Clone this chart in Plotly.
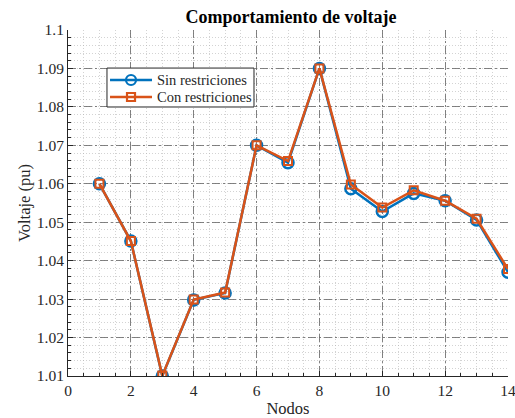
import plotly.graph_objects as go

nodos = list(range(1, 15))
sin_restricciones = [1.0600, 1.0451, 1.0100, 1.0298, 1.0316, 1.0700, 1.0655, 1.0900,
                     1.0587, 1.0528, 1.0575, 1.0556, 1.0506, 1.0370]
con_restricciones = [1.0600, 1.0451, 1.0101, 1.0299, 1.0317, 1.0700, 1.0659, 1.0900,
                     1.0598, 1.0538, 1.0583, 1.0556, 1.0509, 1.0378]
series_names = ["Sin restriciones", "Con restriciones"]

x_ticks = [0, 2, 4, 6, 8, 10, 12, 14]
y_ticks = [1.01, 1.02, 1.03, 1.04, 1.05, 1.06, 1.07, 1.08, 1.09, 1.1]
y_labels = ["1.01", "1.02", "1.03", "1.04", "1.05", "1.06", "1.07", "1.08", "1.09", "1.1"]

FONT = "Liberation Serif, Times New Roman, serif"
BLUE = "#0072BD"
ORANGE = "#D95319"
TXT = "#262626"

fig = go.Figure()
fig.add_trace(go.Scatter(
    x=nodos, y=sin_restricciones, mode="lines+markers", name=series_names[0],
    line=dict(color=BLUE, width=2.5), showlegend=False,
    marker=dict(symbol="circle-open", size=11, color=BLUE, line=dict(width=2.5, color=BLUE)),
))
fig.add_trace(go.Scatter(
    x=nodos, y=con_restricciones, mode="lines+markers", name=series_names[1],
    line=dict(color=ORANGE, width=2.5), showlegend=False,
    marker=dict(symbol="square-open", size=8, color=ORANGE, line=dict(width=2, color=ORANGE)),
))

# ---- legend box (MATLAB style), drawn in paper coordinates ----
shapes = [dict(type="rect", xref="paper", yref="paper", x0=0.0886, x1=0.4227,
               y0=0.7775, y1=0.890, line=dict(color=TXT, width=1), fillcolor="white",
               layer="above")]
annotations = []
rows = [(0.8555, BLUE, "circle"), (0.8064, ORANGE, "square")]
for (yy, col, sym), name in zip(rows, series_names):
    shapes.append(dict(type="line", xref="paper", yref="paper", x0=0.0955, x1=0.1909,
                       y0=yy, y1=yy, line=dict(color=col, width=2.5), layer="above"))
    r = 5 if sym == "circle" else 4
    shapes.append(dict(type="circle" if sym == "circle" else "rect",
                       xref="paper", yref="paper", xsizemode="pixel", ysizemode="pixel",
                       xanchor=0.1432, yanchor=yy, x0=-r, x1=r, y0=-r, y1=r,
                       line=dict(color=col, width=2.2), fillcolor="rgba(0,0,0,0)",
                       layer="above"))
    annotations.append(dict(xref="paper", yref="paper", x=0.1977, y=yy, text=name,
                            showarrow=False, xanchor="left", yanchor="middle",
                            font=dict(family=FONT, size=14.5, color=TXT)))

grid_major = "rgba(100,100,100,0.8)"
grid_minor = "rgba(175,175,175,0.55)"

fig.update_layout(
    width=515, height=418,
    margin=dict(l=68, r=7, t=30, b=42, autoexpand=False),
    paper_bgcolor="white", plot_bgcolor="white",
    font=dict(family=FONT, size=15.5, color=TXT),
    title=dict(text="<b>Comportamiento de voltaje</b>", x=0.565, xanchor="center",
               y=0.961, yanchor="middle", font=dict(family=FONT, size=18, color="black")),
    shapes=shapes, annotations=annotations,
    showlegend=False,
)
fig.update_xaxes(
    range=[0, 14], tickvals=x_ticks, ticktext=[str(v) for v in x_ticks],
    automargin=False, ticklabeloverflow="allow",
    showline=True, linecolor=TXT, linewidth=1, mirror=False,
    ticks="inside", ticklen=5, tickcolor=TXT,
    showgrid=True, gridcolor=grid_major, griddash="8px,3px,2px,3px", gridwidth=1,
    minor=dict(dtick=0.5, showgrid=True, gridcolor=grid_minor, griddash="1px,2px",
               ticks="inside", ticklen=3, tickcolor=TXT),
    zeroline=False,
    title=dict(text="Nodos", font=dict(family=FONT, size=16.5, color=TXT), standoff=12),
)
fig.update_yaxes(
    range=[1.01, 1.1], tickvals=y_ticks, ticktext=y_labels,
    automargin=False, ticklabeloverflow="allow",
    showline=True, linecolor=TXT, linewidth=1, mirror=False,
    ticks="inside", ticklen=5, tickcolor=TXT,
    showgrid=True, gridcolor=grid_major, griddash="8px,3px,2px,3px", gridwidth=1,
    minor=dict(dtick=0.002, showgrid=True, gridcolor=grid_minor, griddash="1px,2px",
               ticks="inside", ticklen=3, tickcolor=TXT),
    zeroline=False,
    title=dict(text="Voltaje (pu)", font=dict(family=FONT, size=16.5, color=TXT), standoff=2),
)

# remove the default 8px page margin so the 515x418 figure fills the window
fig.write_html("out.html",
               config={"displayModeBar": False},
               post_script="document.body.style.margin='0';document.body.style.overflow='hidden';")
